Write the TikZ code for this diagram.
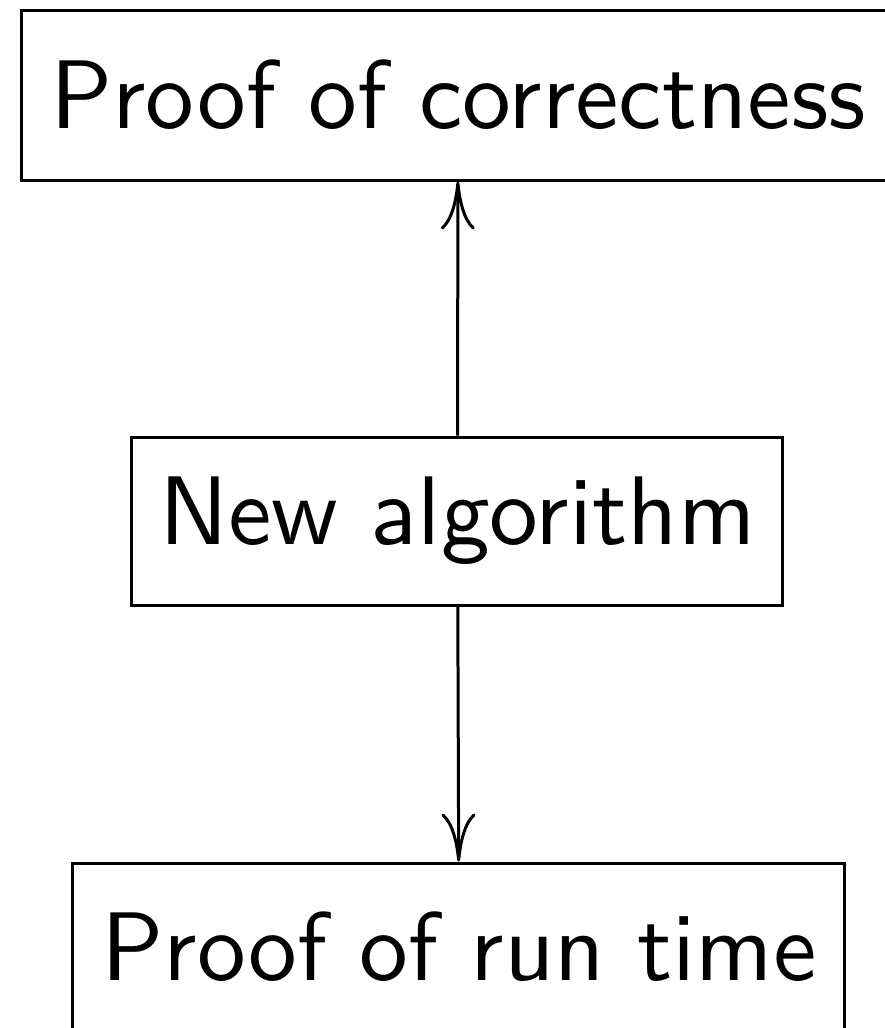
\documentclass[tikz,border=0pt]{standalone}
\usepackage{tikz}
\usetikzlibrary{arrows.meta}

\begin{document}
\begin{tikzpicture}[
  x=1pt, y=1pt,
  box/.style={draw, line width=0.3pt, inner xsep=2pt, minimum height=16.8pt, text centered,
    font=\sffamily\fontsize{9.75}{12}\selectfont},
  arr/.style={-{To[length=4.8pt, width=3.4pt]}, line width=0.3pt},
]
\useasboundingbox (0,0) rectangle (88.5,-102.8);

% ===== boxes =====
\node[box, minimum width=87.2pt, minimum height=17pt] (correct) at (45.8,-9.5) {Proof of correctness};
\node[box, minimum width=65.1pt] (algo) at (45.75,-52.1) {New algorithm};
\node[box, minimum width=77.2pt] (runtime) at (45.9,-94.7) {Proof of run time};

% ===== arrows =====
\draw[arr] (algo) -- (correct);
\draw[arr] (algo) -- (runtime);

\end{tikzpicture}
\end{document}
